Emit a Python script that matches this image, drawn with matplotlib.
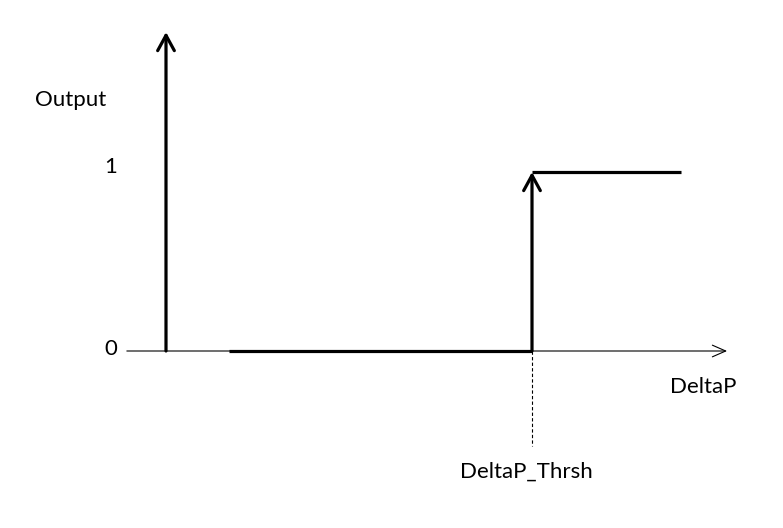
import matplotlib
matplotlib.use("Agg")
import matplotlib.pyplot as plt

# Data (DeltaP in units of threshold, Output level)
threshold = 1.0
low_x = [0.172, 1.0]
low_y = [0, 0]
high_x = [1.0, 1.407]
high_y = [1, 1]
y_ticks = [0, 1]
y_tick_labels = ["0", "1"]
x_axis_range = [-0.107, 1.533]
y_axis_top = 1.782
dash_bottom = -0.53

plt.rcParams['font.family'] = ['Lato', 'DejaVu Sans']

fig = plt.figure(figsize=(7.83, 5.28), dpi=100)
ax = fig.add_axes([0, 0, 1, 1])
ax.set_xlim(-166 / 366, (783 - 166) / 366)
ax.set_ylim(-(528 - 351) / 179, 351 / 179)
ax.axis('off')

thick = 2.3
# x axis (thin with open arrow)
ax.annotate('', xy=(x_axis_range[1], 0), xytext=(x_axis_range[0], 0),
            arrowprops=dict(arrowstyle='->,head_width=0.35,head_length=0.8', lw=0.8, color='black',
                            shrinkA=0, shrinkB=0, mutation_scale=12))
# y axis (thick open arrow)
ax.annotate('', xy=(0, y_axis_top), xytext=(0, 0),
            arrowprops=dict(arrowstyle='->,head_width=0.3,head_length=0.55', lw=thick, color='black',
                            shrinkA=0, shrinkB=0, mutation_scale=20))

# step output
ax.plot(low_x, low_y, color='black', lw=thick, solid_capstyle='butt')
ax.plot(high_x, high_y, color='black', lw=thick, solid_capstyle='butt')
ax.annotate('', xy=(threshold, high_y[0]), xytext=(threshold, 0),
            arrowprops=dict(arrowstyle='->,head_width=0.3,head_length=0.55', lw=thick, color='black',
                            shrinkA=0, shrinkB=0, mutation_scale=20))

# threshold dashed line
ax.plot([threshold, threshold], [0, dash_bottom], color='black', lw=0.8,
        linestyle=(0, (3, 2)))

# labels
fs = 16
for v, lab in zip(y_ticks, y_tick_labels):
    ax.text(-0.133, v + (0.01 if v == 0 else 0.03), lab, ha='right', va='center', fontsize=fs)
ax.text(-0.358, (351 - 100) / 179, 'Output', ha='left', va='center', fontsize=fs)
ax.text((670 - 166) / 366, -(387 - 351) / 179, 'DeltaP', ha='left', va='center', fontsize=fs)
ax.text((460 - 166) / 366, -(472 - 351) / 179, 'DeltaP_Thrsh', ha='left', va='center', fontsize=fs)

fig.savefig('out.png', dpi=100)
